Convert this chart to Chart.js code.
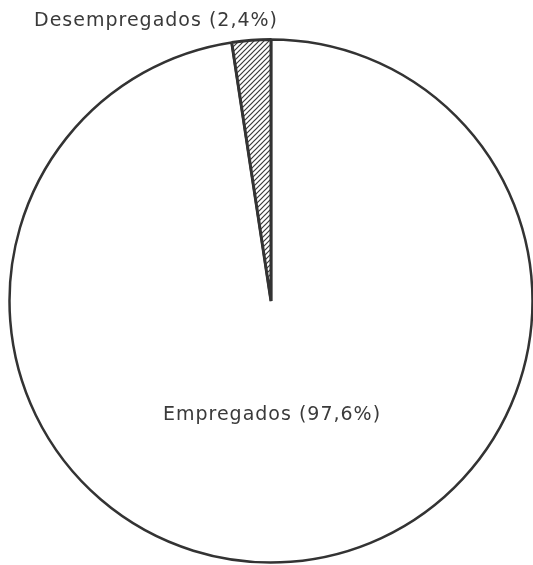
<!DOCTYPE html>
<html>
<head>
<meta charset="utf-8">
<script src="https://cdn.jsdelivr.net/npm/chart.js@4"></script>
<style>
  html, body { margin: 0; padding: 0; background: #fff; overflow: hidden; }
  #wrap { width: 540px; height: 565px; }
</style>
</head>
<body>
<div id="wrap"><canvas id="pie"></canvas></div>
<script>
const categories = ['Empregados', 'Desempregados'];
const shares = [97.6, 2.4];
const shareLabels = ['97,6%', '2,4%'];

// diagonal hatch for the small slice
function hatch() {
  const c = document.createElement('canvas');
  c.width = 5; c.height = 5;
  const g = c.getContext('2d');
  g.fillStyle = '#fff';
  g.fillRect(0, 0, 5, 5);
  g.strokeStyle = '#3a3a3a';
  g.lineWidth = 1.2;
  g.beginPath();
  g.moveTo(-1, 6); g.lineTo(6, -1);
  g.moveTo(-1, 1); g.lineTo(1, -1);
  g.moveTo(4, 6); g.lineTo(6, 4);
  g.stroke();
  return g.createPattern(c, 'repeat');
}

const labelPlugin = {
  id: 'sliceLabels',
  afterDraw(chart) {
    const ctx = chart.ctx;
    const arcs = chart.getDatasetMeta(0).data;
    ctx.save();
    ctx.fillStyle = '#3a3a3a';
    ctx.font = '19px "DejaVu Sans", sans-serif';
    ctx.letterSpacing = '1px';
    ctx.textBaseline = 'middle';
    // big slice: label below the centre
    const a0 = arcs[0];
    ctx.textAlign = 'center';
    ctx.fillText(categories[0] + ' (' + shareLabels[0] + ')', a0.x + 1, a0.y + a0.outerRadius * 0.435);
    // small slice: label above the rim, ending at the slice
    const a1 = arcs[1];
    ctx.textAlign = 'right';
    ctx.fillText(categories[1] + ' (' + shareLabels[1] + ')', a1.x + 7, a1.y - a1.outerRadius - 18);
    ctx.restore();
  }
};

new Chart(document.getElementById('pie'), {
  type: 'pie',
  data: {
    labels: categories,
    datasets: [{
      data: shares,
      backgroundColor: ['#ffffff', hatch()],
      borderColor: '#333',
      borderWidth: [2.5, 3],
      borderAlign: 'center'
    }]
  },
  options: {
    responsive: true,
    maintainAspectRatio: false,
    animation: false,
    layout: { padding: { left: 8, right: 6, top: 38, bottom: 1 } },
    plugins: {
      legend: { display: false },
      tooltip: { enabled: false }
    }
  },
  plugins: [labelPlugin]
});
</script>
</body>
</html>
